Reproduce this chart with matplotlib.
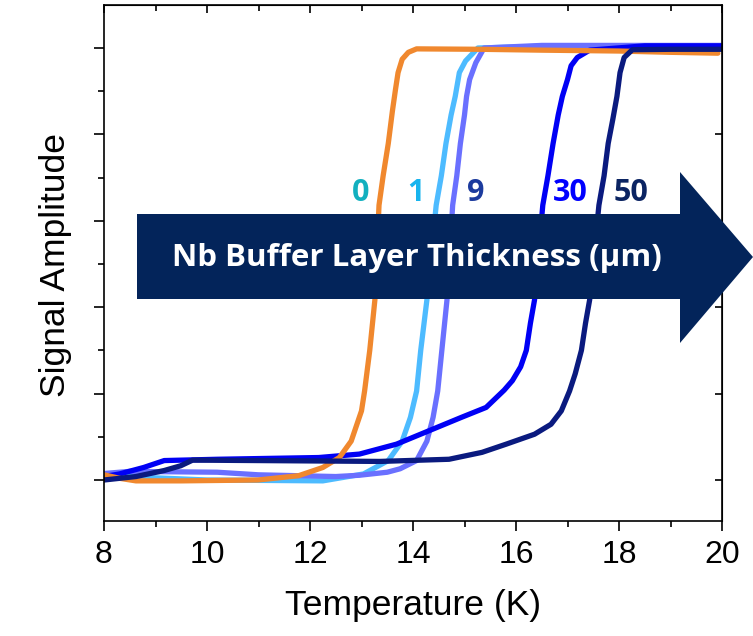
import numpy as np
import matplotlib
matplotlib.use('Agg')
import matplotlib.pyplot as plt
from matplotlib.patches import Polygon
from matplotlib.ticker import MultipleLocator

# Tc transitions, normalised signal (0 = low plateau, 1 = high plateau)
T_0 = [8.0, 8.3, 8.62, 9.5, 10.99, 11.78, 12.25, 12.57, 12.8, 13.0, 13.06, 13.16, 13.26, 13.34,
       13.42, 13.52, 13.6, 13.66, 13.71, 13.79, 13.91, 14.07, 15.3, 16.5, 18.0, 19.0, 19.92]
S_0 = [0.012, 0.004, -0.002, -0.002, 0.0, 0.01, 0.029, 0.052, 0.09, 0.16, 0.206, 0.30, 0.417, 0.636,
       0.704, 0.779, 0.854, 0.904, 0.943, 0.974, 0.99, 0.998, 0.997, 0.995, 0.993, 0.99, 0.988]

T_1 = [8.0, 8.8, 10.0, 12.25, 13.04, 13.52, 13.79, 13.95, 14.07, 14.15, 14.27, 14.45, 14.55, 14.64,
       14.74, 14.82, 14.9, 15.02, 15.26, 16.5, 18.0, 20.0]
S_1 = [0.014, 0.006, 0.0, -0.002, 0.014, 0.045, 0.09, 0.145, 0.206, 0.30, 0.417, 0.636, 0.704, 0.779,
       0.845, 0.888, 0.943, 0.97, 1.0, 1.004, 1.004, 1.004]

T_9 = [8.0, 8.5, 10.2, 11.0, 12.5, 12.96, 13.5, 13.75, 14.07, 14.27, 14.39, 14.48, 14.56, 14.66,
       14.77, 14.85, 14.92, 15.0, 15.04, 15.1, 15.22, 15.38, 16.5, 18.0, 20.0]
S_9 = [0.015, 0.02, 0.018, 0.012, 0.008, 0.011, 0.018, 0.026, 0.045, 0.09, 0.145, 0.206, 0.30, 0.417,
       0.636, 0.704, 0.779, 0.845, 0.888, 0.927, 0.966, 1.0, 1.006, 1.006, 1.006]

T_30 = [8.0, 8.3, 8.77, 9.17, 10.2, 12.17, 12.96, 13.68, 14.31, 14.94, 15.42, 15.77, 15.93, 16.09,
        16.2, 16.28, 16.36, 16.52, 16.62, 16.72, 16.82, 16.9, 17.0, 17.07, 17.19, 17.43, 18.5, 20.0]
S_30 = [0.008, 0.014, 0.029, 0.045, 0.048, 0.052, 0.06, 0.083, 0.114, 0.145, 0.168, 0.208, 0.23, 0.262,
        0.30, 0.363, 0.417, 0.636, 0.704, 0.779, 0.845, 0.888, 0.927, 0.959, 0.978, 0.995, 1.005, 1.005]

T_50 = [8.0, 8.62, 9.17, 9.49, 9.72, 10.99, 13.36, 14.7, 15.34, 15.81, 16.36, 16.68, 16.88, 17.04,
        17.15, 17.27, 17.35, 17.43, 17.61, 17.71, 17.79, 17.88, 17.96, 18.02, 18.1, 18.26, 19.0, 20.0]
S_50 = [0.0, 0.008, 0.022, 0.033, 0.046, 0.045, 0.043, 0.048, 0.064, 0.083, 0.106, 0.129, 0.16, 0.206,
        0.246, 0.30, 0.363, 0.417, 0.636, 0.704, 0.779, 0.835, 0.888, 0.943, 0.978, 0.996, 0.997, 0.997]

labels = ['0', '1', '9', '30', '50']
label_colors = ['#12b0bf', '#17b4ee', '#1c3b9e', '#0000ff', '#0b2462']
label_x_px = [361, 416, 476, 570, 631]

W, H = 753, 636
fig = plt.figure(figsize=(W/100, H/100), dpi=100)
ax = fig.add_axes([104/W, (H-521)/H, 618/W, 516/H])

lw = 3.8
kw = dict(lw=lw, solid_capstyle='round', solid_joinstyle='round')
ax.plot(T_1, S_1, color='#4dbbff', **kw)
ax.plot(T_9, S_9, color='#6a70ff', **kw)
ax.plot(T_30, S_30, color='#0000f5', **kw)
ax.plot(T_0, S_0, color='#f0882e', **kw)
ax.plot(T_50, S_50, color='#0a1a7f', **kw)

ax.set_xlim(8, 20)
ax.set_ylim(-41/432, 1 + 43/432)
ax.xaxis.set_major_locator(MultipleLocator(2))
ax.xaxis.set_minor_locator(MultipleLocator(1))
ax.yaxis.set_major_locator(MultipleLocator(0.2))
ax.yaxis.set_minor_locator(MultipleLocator(0.1))
ax.set_yticklabels([])

for s in ax.spines.values():
    s.set_linewidth(1.2)

fam = ['Liberation Sans', 'DejaVu Sans']
ax.tick_params(axis='x', which='major', direction='out', length=7, width=1.2,
               labelsize=23, pad=7, top=False)
ax.tick_params(axis='x', which='minor', direction='out', length=4, width=1.2, top=False)
ax.tick_params(axis='y', which='major', direction='out', length=7, width=1.2, right=False)
ax.tick_params(axis='y', which='minor', direction='out', length=4, width=1.2, right=False)
for lab in ax.get_xticklabels():
    lab.set_family(fam)

# inward ticks on top and right
top = ax.secondary_xaxis('top')
top.xaxis.set_major_locator(MultipleLocator(2))
top.xaxis.set_minor_locator(MultipleLocator(1))
top.tick_params(which='major', direction='in', length=6, width=1.2, labeltop=False)
top.tick_params(which='minor', direction='in', length=4, width=1.2)
right = ax.secondary_yaxis('right')
right.yaxis.set_major_locator(MultipleLocator(0.2))
right.yaxis.set_minor_locator(plt.NullLocator())
right.tick_params(which='major', direction='in', length=5, width=1.2, labelright=False)

fig.text(413/W, 1 - 606/H, 'Temperature (K)', ha='center', va='center', fontsize=25.5, family=fam)
fig.text(55/W, 1 - 265/H, 'Signal Amplitude', ha='center', va='center', rotation=90,
         fontsize=25.5, family=fam)

# big arrow
navy = '#03245a'
pts = [(137, 214), (680, 214), (680, 172), (753, 257), (680, 343), (680, 299), (137, 299)]
arrow = Polygon([(x/W, 1 - y/H) for x, y in pts], closed=True, transform=fig.transFigure,
                facecolor=navy, edgecolor='none', zorder=10)
fig.add_artist(arrow)
fig.text(417/W, 1 - 258/H, 'Nb Buffer Layer Thickness (µm)', ha='center', va='center',
         color='white', fontsize=22.5, fontweight='bold', family=['Open Sans', 'DejaVu Sans'],
         zorder=11)

for lab, c, xp in zip(labels, label_colors, label_x_px):
    fig.text(xp/W, 1 - 193/H, lab, ha='center', va='center', color=c, fontsize=22,
             fontweight='bold', family=['Open Sans', 'DejaVu Sans'], zorder=11)

fig.savefig('out.png', dpi=100)
